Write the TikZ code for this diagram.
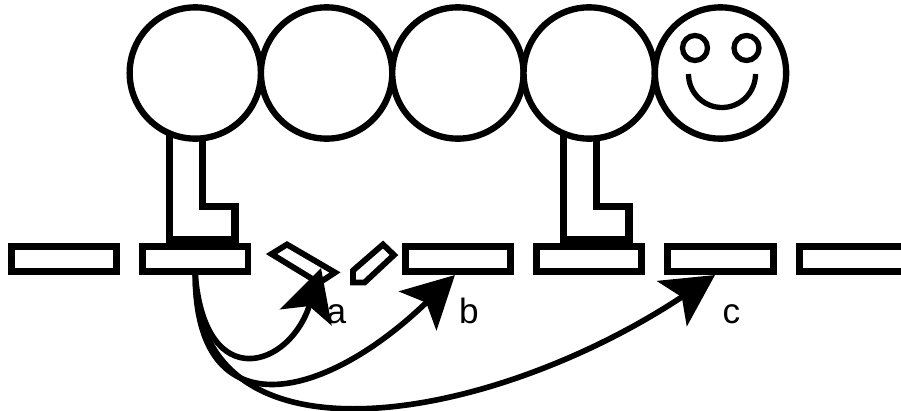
\documentclass[tikz,border=0pt]{standalone}
\usepackage{fontspec}
\setmainfont{Liberation Sans}
\usetikzlibrary{arrows.meta,calc}

\begin{document}
\begin{tikzpicture}[>={Stealth[length=44pt,width=46pt,inset=10pt]}, line join=miter, x=0.3mm, y=-0.3mm,
  tie/.style={draw, line width=5.8pt, minimum width=105.3*0.3mm, minimum height=25.3*0.3mm, inner sep=0pt},
  piece/.style={line width=5pt},
  leg/.style={line width=6.2pt},
  body/.style={draw, fill=white, line width=5.4pt},
  face/.style={line width=4.5pt},
  move/.style={->, line width=4.8pt},
  lbl/.style={font=\fontsize{30}{36}\selectfont, inner sep=0pt, anchor=base}]

% --- Parameters (px, y down) ---
\def\gap{131.3}   % pitch of ties and body
\def\rbody{65.65} % body radius
\def\ybody{73}    % body centre height
\def\ytie{259}    % tie centre height

\useasboundingbox (0,0) rectangle (901,410);
\clip (0,0) rectangle (901,410);

% --- Ties ---
\foreach \k in {0,1,3,4,5,6}
  \node[tie] (t\k) at ({64+\k*\gap},\ytie) {};

% --- Broken tie ---
\draw[piece] (271.5,254) -- (287,244.5) -- (335,272.5) -- (319,283) -- cycle;
\draw[piece] (353,270.5) -- (353,282.5) -- (364.5,282.5) -- (394,255) -- (383,244.5) -- cycle;

% --- Legs ---
\foreach \k in {1,4}
  \draw[leg] ({64+\k*\gap-25.6},110) -- ++(0,130) -- ++(65.3,0) -- ++(0,-33.3) -- ++(-32.5,0) -- ++(0,-96.7);

% --- Body ---
\foreach \k in {1,...,5}
  \filldraw[body] ({64+\k*\gap},\ybody) circle (\rbody);

% --- Face ---
\coordinate (head) at ({64+5*\gap},\ybody);
\draw[face] ($(head)+(-25.5,-25)$) circle (12.5);
\draw[face] ($(head)+(26,-25)$) circle (12.5);
\draw[face] ($(head)+(35,1)$) arc[start angle=0, end angle=180, radius=33.5];

% --- Moves ---
\coordinate (tipa) at (321,268);
\draw[move] (t1.south) .. controls +(10,120) and +(-31,100) .. (tipa);
\draw[move] (t1.south) .. controls +(0,153) and +(-135,130) .. ($(t3.south)+(-3,0)$);
\draw[move] (t1.south) .. controls +(0,200) and +(-225,149) .. ($(t5.south)+(-5.5,0)$);

\node[lbl] (la) at (336.5,323) {a};
\node[lbl] (lb) at (469,323) {b};
\node[lbl] (lc) at (731.5,323) {c};

\end{tikzpicture}
\end{document}
